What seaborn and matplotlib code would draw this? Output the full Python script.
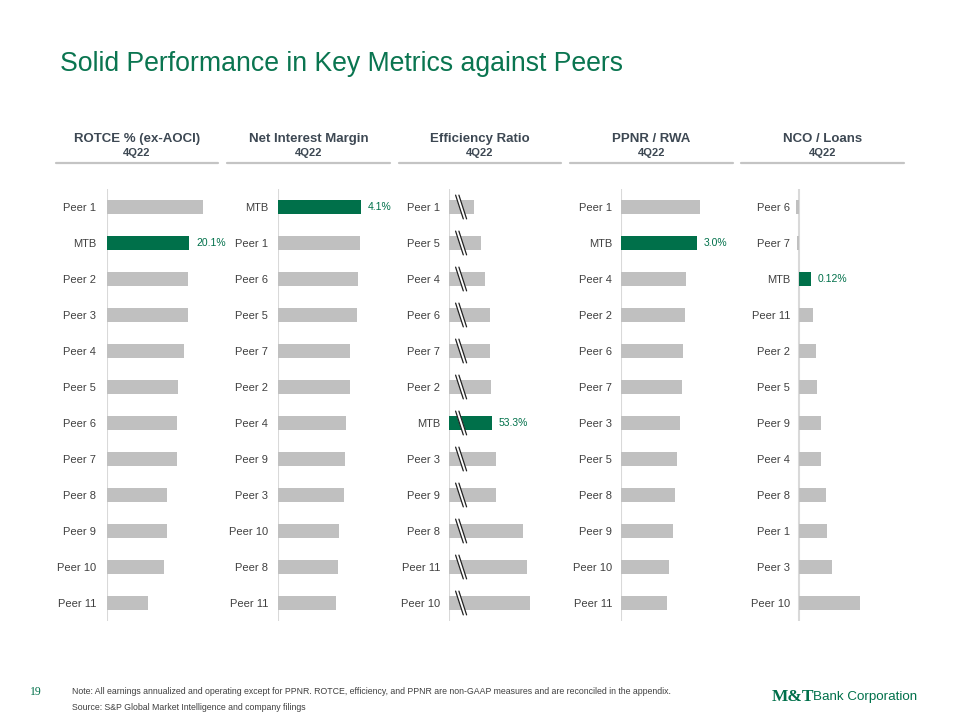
import matplotlib
matplotlib.use("Agg")
import matplotlib.pyplot as plt
import seaborn as sns
import pandas as pd
from matplotlib.lines import Line2D

# ---------------- data ----------------
rotce_cats = ["Peer 1", "MTB", "Peer 2", "Peer 3", "Peer 4", "Peer 5", "Peer 6",
              "Peer 7", "Peer 8", "Peer 9", "Peer 10", "Peer 11"]
rotce_vals = [23.6, 20.1, 19.9, 19.9, 18.9, 17.4, 17.1, 17.1, 14.8, 14.8, 14.1, 10.2]

nim_cats = ["MTB", "Peer 1", "Peer 6", "Peer 5", "Peer 7", "Peer 2", "Peer 4",
            "Peer 9", "Peer 3", "Peer 10", "Peer 8", "Peer 11"]
nim_vals = [4.10, 4.04, 3.94, 3.92, 3.56, 3.56, 3.38, 3.33, 3.27, 3.02, 2.96, 2.86]

eff_cats = ["Peer 1", "Peer 5", "Peer 4", "Peer 6", "Peer 7", "Peer 2", "MTB",
            "Peer 3", "Peer 9", "Peer 8", "Peer 11", "Peer 10"]
eff_vals = [47.7, 50.0, 51.2, 52.8, 52.8, 53.1, 53.3, 54.6, 54.6, 63.0, 64.4, 65.2]

ppnr_cats = ["Peer 1", "MTB", "Peer 4", "Peer 2", "Peer 6", "Peer 7", "Peer 3",
             "Peer 5", "Peer 8", "Peer 9", "Peer 10", "Peer 11"]
ppnr_vals = [3.13, 3.00, 2.59, 2.53, 2.45, 2.41, 2.32, 2.20, 2.12, 2.06, 1.91, 1.81]

nco_cats = ["Peer 6", "Peer 7", "MTB", "Peer 11", "Peer 2", "Peer 5", "Peer 9",
            "Peer 4", "Peer 8", "Peer 1", "Peer 3", "Peer 10"]
nco_vals = [-0.03, -0.02, 0.12, 0.14, 0.17, 0.18, 0.22, 0.22, 0.27, 0.28, 0.33, 0.61]

panel_titles = ["ROTCE % (ex-AOCI)", "Net Interest Margin", "Efficiency Ratio",
                "PPNR / RWA", "NCO / Loans"]
period_label = "4Q22"
mtb_labels = ["20.1%", "4.1%", "53.3%", "3.0%", "0.12%"]

title_text = "Solid Performance in Key Metrics against Peers"
note_line1 = ("Note: All earnings annualized and operating except for PPNR. ROTCE, efficiency, "
              "and PPNR are non-GAAP measures and are reconciled in the appendix.")
note_line2 = "Source: S&P Global Market Intelligence and company filings"
page_no = "19"

# ---------------- style ----------------
GREEN = "#00704a"
GRAY = "#c0c0c0"
AXIS_GRAY = "#d9d9d9"
HEAD = "#3d4853"
LABEL = "#404040"

sns.set_theme(style="white")
plt.rcParams['font.family'] = ['Liberation Sans', 'DejaVu Sans']

W, H = 960, 720
fig = plt.figure(figsize=(9.6, 7.2), dpi=100)

panels = [
    (rotce_cats, rotce_vals),
    (nim_cats, nim_vals),
    (eff_cats, eff_vals),
    (ppnr_cats, ppnr_vals),
    (nco_cats, nco_vals),
]
# layout (pixels) : axes left edge, x-limits, baseline value
ax_left_px = [106.7, 277.7, 449.0, 620.7, 793.7]
xlims = [(0, 26.86), (0, 5.42), (40, 74.3), (0, 4.33), (-0.05, 1.05)]
baselines = [0, 0, 40, 0, 0]
ax_w_px = 110
top_px, bot_px = 189, 621
label_end_px = [96, 268, 440, 612, 790]

header_spans = [(56, 218), (227, 390), (399, 561), (570, 733), (741, 904)]

for i, (cats, vals) in enumerate(panels):
    ax = fig.add_axes([ax_left_px[i] / W, 1 - bot_px / H, ax_w_px / W,
                       (bot_px - top_px) / H])
    df = pd.DataFrame({"cat": cats, "val": vals})
    pal = {c: (GREEN if c == "MTB" else GRAY) for c in cats}
    sns.barplot(data=df, y="cat", x="val", hue="cat", palette=pal, order=cats,
                hue_order=cats, legend=False, width=0.39, ax=ax,
                saturation=1, edgecolor="none", linewidth=0)
    ax.set_xlim(*xlims[i])
    ax.set_ylim(len(cats) - 0.5, -0.5)
    for s in ax.spines.values():
        s.set_visible(False)
    ax.axvline(baselines[i], color=AXIS_GRAY, lw=1.5, zorder=0.5)
    ax.set_xticks([])
    ax.set_xlabel("")
    ax.set_ylabel("")
    pad_pt = (ax_left_px[i] - label_end_px[i]) * 72 / 100
    ax.tick_params(axis="y", length=0, pad=pad_pt, labelsize=8, labelcolor=LABEL)
    ax.patch.set_alpha(0)

    # MTB value label
    j = cats.index("MTB")
    ax.annotate(mtb_labels[i], xy=(vals[j], j), xytext=(5, 0),
                textcoords="offset points", va="center", ha="left",
                fontsize=7.5, color=GREEN)

    # axis break marks for the efficiency ratio
    if i == 2:
        lo, hi = xlims[i]
        span = hi - lo
        offs = (0.060, 0.090)
        slant = span * 0.070
        for k in range(len(cats)):
            xm = lo + span * (offs[0] + offs[1]) / 2
            ax.plot([xm, xm + slant], [k - 0.33, k + 0.33], color="white", lw=2.6,
                    solid_capstyle="butt", zorder=3)
            for off in offs:
                x0 = lo + span * off
                ax.plot([x0, x0 + slant], [k - 0.33, k + 0.33], color="#222222",
                        lw=0.9, zorder=4)

    # headers
    cx = (header_spans[i][0] + header_spans[i][1]) / 2 / W
    fig.text(cx, 1 - 139 / H, panel_titles[i], ha="center", va="center",
             fontsize=9.5, fontweight="bold", color=HEAD)
    fig.text(cx, 1 - 153 / H, period_label, ha="center", va="center",
             fontsize=8, fontweight="bold", color=HEAD)
    fig.add_artist(Line2D([header_spans[i][0] / W, header_spans[i][1] / W],
                          [1 - 163 / H, 1 - 163 / H], color="#c4c4c4", lw=1.6))

# title
fig.text(60 / W, 1 - 64 / H, title_text, ha="left", va="center", fontsize=19.2,
         color="#0a7550")

# footer
fig.text(30 / W, 1 - 692 / H, page_no, ha="left", va="center", fontsize=8.5,
         color=GREEN, family=["Liberation Serif", "DejaVu Serif"])
fig.text(72 / W, 1 - 692 / H, note_line1, ha="left", va="center", fontsize=6.3,
         color=LABEL)
fig.text(72 / W, 1 - 707 / H, note_line2, ha="left", va="center", fontsize=6.3,
         color=LABEL)
fig.text(772 / W, 1 - 697 / H, "M&T", ha="left", va="center", fontsize=12.5,
         fontweight="bold", color=GREEN, family=["Liberation Serif", "DejaVu Serif"])
fig.text(813 / W, 1 - 697 / H, "Bank Corporation", ha="left", va="center",
         fontsize=9.6, color=GREEN)

fig.savefig("out.png", dpi=100)
